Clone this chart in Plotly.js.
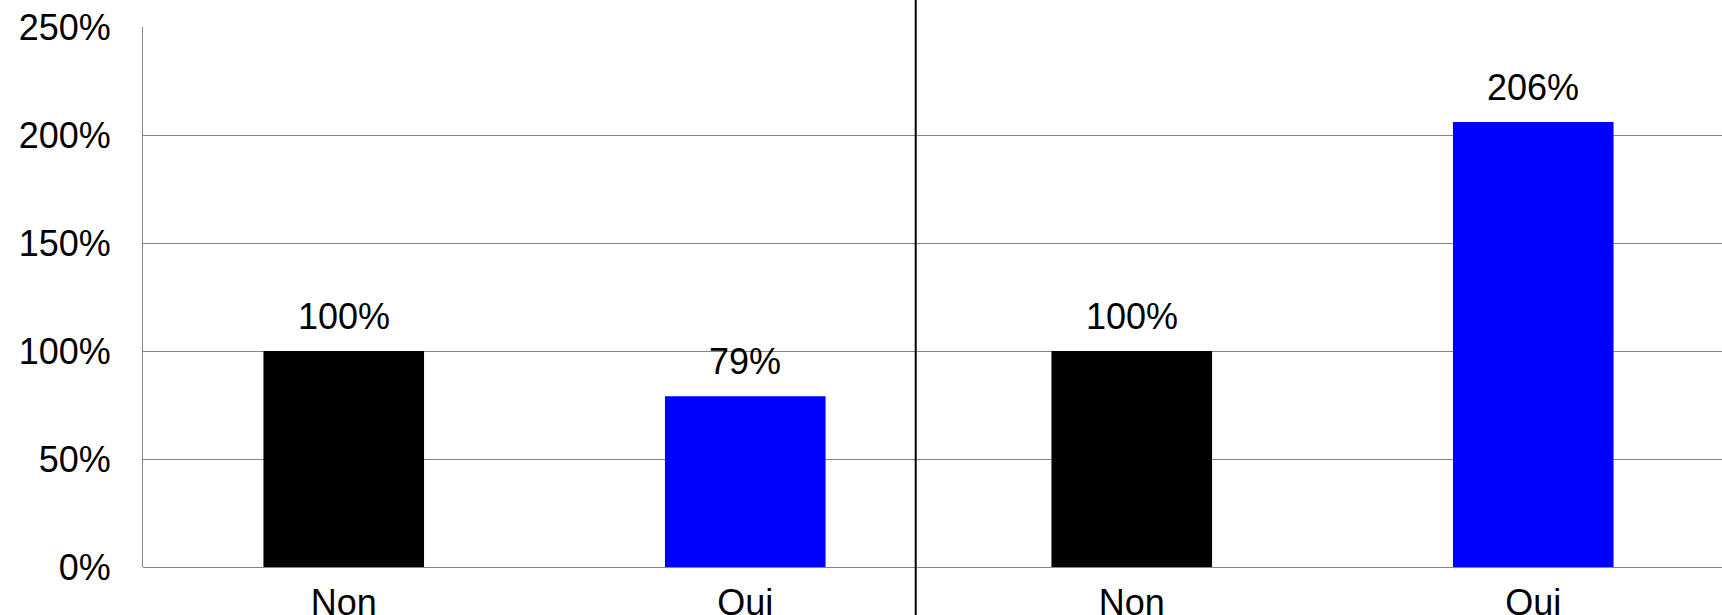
<!DOCTYPE html>
<html>
<head>
<meta charset="utf-8">
<script src="https://cdn.plot.ly/plotly-3.0.1.min.js"></script>
<style>
  html, body { margin: 0; padding: 0; background: #ffffff; }
  #chart { width: 1722px; height: 615px; }
</style>
</head>
<body>
<div id="chart"></div>
<script>
// ---- data ----
const categories = ['Non', 'Oui'];
const leftValues = [100, 79];
const rightValues = [100, 206];
const barColors = ['#000000', '#0000ff'];
const yTickValues = [0, 50, 100, 150, 200, 250];
const yTickLabels = ['0%', '50%', '100%', '150%', '200%', '250%'];

const FONT = '"Liberation Sans", Arial, Helvetica, sans-serif';
const FS = 36;
const GRID = '#858585';

const traces = [
  {
    type: 'bar', x: categories, y: leftValues, xaxis: 'x', yaxis: 'y',
    width: 0.4, marker: { color: barColors, line: { width: 0 } },
    hoverinfo: 'skip', showlegend: false
  },
  {
    type: 'bar', x: categories, y: rightValues, xaxis: 'x2', yaxis: 'y2',
    width: 0.4, marker: { color: barColors, line: { width: 0 } },
    hoverinfo: 'skip', showlegend: false
  }
];

function labels(values, xr, yr) {
  return values.map((v, i) => ({
    x: categories[i], y: v, xref: xr, yref: yr,
    text: v + '%', showarrow: false, yanchor: 'bottom',
    yshift: 12, font: { family: FONT, size: FS, color: '#000' }
  }));
}

const W = 1722, L = 143;
const plotW = W - L;
const leftEnd = 946, rightStart = 931, divider = 915.7;

const layout = {
  width: 1722, height: 615,
  margin: { l: L, r: 0, t: 27, b: 48, pad: 0 },
  paper_bgcolor: '#ffffff', plot_bgcolor: 'rgba(0,0,0,0)',
  font: { family: FONT, size: FS, color: '#000' },
  xaxis: {
    domain: [0, (leftEnd - L) / plotW],
    type: 'category', range: [-0.5, 1.5],
    showgrid: false, zeroline: false, showline: false, ticks: '',
    ticklabelstandoff: 11,
    tickfont: { family: FONT, size: FS, color: '#000' },
    fixedrange: true
  },
  yaxis: {
    range: [0, 250], tickvals: yTickValues, ticktext: yTickLabels,
    showgrid: true, gridcolor: GRID, gridwidth: 1,
    zeroline: true, zerolinecolor: GRID, zerolinewidth: 1,
    showline: true, linecolor: GRID, linewidth: 1, mirror: false,
    ticks: '', ticklabelstandoff: 24,
    tickfont: { family: FONT, size: FS, color: '#000' },
    fixedrange: true
  },
  xaxis2: {
    domain: [(rightStart - L) / plotW, 1], anchor: 'y2',
    type: 'category', range: [-0.5, -0.5 + (W - rightStart) / ((leftEnd - L) / 2)],
    showgrid: false, zeroline: false, showline: false, ticks: '',
    ticklabelstandoff: 11,
    tickfont: { family: FONT, size: FS, color: '#000' },
    fixedrange: true
  },
  yaxis2: {
    anchor: 'x2', range: [0, 250], tickvals: yTickValues,
    showticklabels: false,
    showgrid: true, gridcolor: GRID, gridwidth: 1,
    zeroline: true, zerolinecolor: GRID, zerolinewidth: 1,
    showline: false, ticks: '', fixedrange: true
  },
  annotations: labels(leftValues, 'x', 'y').concat(labels(rightValues, 'x2', 'y2')),
  shapes: [{
    type: 'line', xref: 'paper', yref: 'paper',
    x0: (divider - L) / plotW, x1: (divider - L) / plotW,
    y0: -48 / 540, y1: 1 + 27 / 540,
    line: { color: '#000000', width: 2 }, layer: 'above'
  }]
};

Plotly.newPlot('chart', traces, layout, { displayModeBar: false, staticPlot: true });
</script>
</body>
</html>
